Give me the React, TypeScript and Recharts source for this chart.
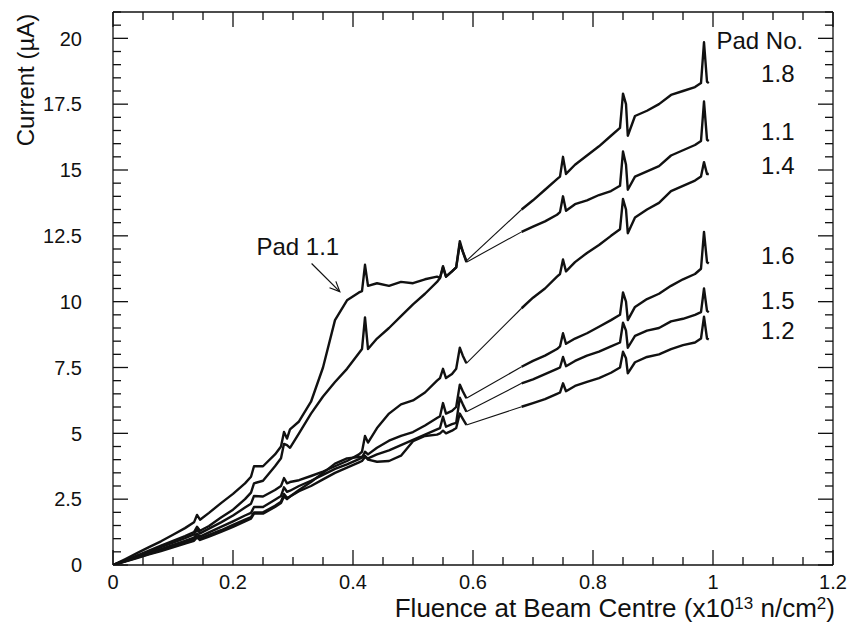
import {
  LineChart,
  Line,
  XAxis,
  YAxis,
  ReferenceDot,
  ReferenceLine,
} from "recharts";

// fluence at beam centre (x10^13 n/cm^2) – shared sampling of all six pads
const fluence = [
  0, 0.02, 0.04, 0.06, 0.08, 0.1, 0.12, 0.135, 0.14, 0.145,
  0.16, 0.18, 0.2, 0.22, 0.23, 0.235, 0.25, 0.27, 0.28, 0.285,
  0.29, 0.295, 0.31, 0.33, 0.35, 0.37, 0.39, 0.41, 0.415, 0.42,
  0.425, 0.44, 0.46, 0.48, 0.5, 0.52, 0.54, 0.545, 0.55, 0.555,
  0.565, 0.572, 0.578, 0.583, 0.589,
  0.681, 0.7, 0.72, 0.74, 0.745, 0.75, 0.755, 0.77, 0.79, 0.81,
  0.83, 0.845, 0.85, 0.855, 0.858, 0.87, 0.89, 0.91, 0.93, 0.95,
  0.97, 0.98, 0.985, 0.99, 0.993,
];
// no measurements between these two fluences, only a straight join
const gapStart = 0.589;
const gapEnd = 0.681;

// current (µA) per pad
const pad18 = [
  0, 0.18, 0.36, 0.55, 0.74, 0.92, 1.1, 1.25, 1.45, 1.3,
  1.48, 1.8, 2.1, 2.5, 2.75, 3.1, 3.2, 3.75, 4.05, 4.6,
  4.55, 4.45, 5.0, 5.75, 6.4, 6.95, 7.45, 8.05, 8.2, 9.4,
  8.2, 8.6, 9.0, 9.45, 9.9, 10.3, 10.75, 10.9, 11.3, 10.95,
  11.15, 11.3, 12.2, 11.9, 11.55,
  13.5, 13.85, 14.25, 14.65, 14.75, 15.5, 14.85, 15.2, 15.55, 15.9,
  16.3, 16.6, 17.9, 17.5, 16.3, 17.05, 17.25, 17.5, 17.85, 18.0,
  18.15, 18.3, 19.85, 18.35, 18.3,
];

const pad11 = [
  0, 0.22, 0.45, 0.68, 0.9, 1.15, 1.4, 1.62, 1.9, 1.72,
  1.98, 2.35, 2.7, 3.1, 3.35, 3.75, 3.75, 4.2, 4.5, 5.05,
  4.8, 5.15, 5.45, 6.2, 7.5, 9.3, 10.05, 10.35, 10.4, 11.4,
  10.6, 10.7, 10.6, 10.75, 10.7, 10.85, 10.95, 10.9, 11.35, 10.95,
  11.15, 11.3, 12.3, 11.9, 11.5,
  12.65, 12.85, 13.05, 13.3, 13.4, 14.0, 13.45, 13.7, 13.85, 14.05,
  14.2, 14.4, 15.7, 15.2, 14.25, 14.75, 14.95, 15.15, 15.55, 15.75,
  15.95, 16.1, 17.6, 16.15, 16.1,
];

const pad14 = [
  0, 0.17, 0.34, 0.51, 0.68, 0.85, 1.02, 1.16, 1.38, 1.2,
  1.38, 1.62, 1.88, 2.18, 2.33, 2.62, 2.6, 2.85, 3.0, 3.3,
  3.1, 3.15, 3.22, 3.38, 3.55, 3.75, 3.95, 4.2, 4.3, 4.9,
  4.65, 5.2, 5.75, 6.1, 6.25, 6.55, 7.0, 7.1, 7.45, 7.1,
  7.25, 7.45, 8.25, 7.95, 7.66,
  9.75, 10.15, 10.5, 10.95, 11.05, 11.6, 11.15, 11.5, 11.85, 12.15,
  12.5, 12.75, 13.9, 13.5, 12.6, 13.2, 13.5, 13.75, 14.2, 14.4,
  14.6, 14.75, 15.3, 14.85, 14.85,
];

const pad16 = [
  0, 0.15, 0.3, 0.45, 0.6, 0.76, 0.92, 1.04, 1.2, 1.08,
  1.24, 1.45, 1.66, 1.88, 1.98, 2.2, 2.2, 2.48, 2.62, 2.95,
  2.78, 2.82, 3.0, 3.2, 3.42, 3.65, 3.82, 4.02, 4.08, 4.3,
  4.2, 4.45, 4.72, 4.9, 5.05, 5.3, 5.58, 5.65, 6.15, 5.75,
  5.85, 6.0, 6.85, 6.6, 6.33,
  7.53, 7.75, 7.95, 8.2, 8.3, 8.8, 8.4, 8.6, 8.8, 9.05,
  9.3, 9.5, 10.35, 10.0, 9.3, 9.8, 10.1, 10.3, 10.6, 10.85,
  11.05, 11.25, 12.65, 11.5, 11.45,
];

const pad15 = [
  0, 0.14, 0.28, 0.42, 0.56, 0.71, 0.86, 0.97, 1.1, 1.0,
  1.14, 1.32, 1.52, 1.72, 1.82, 2.0, 2.0, 2.25, 2.4, 2.7,
  2.55, 2.6, 2.8, 3.0, 3.25, 3.5, 3.7, 3.9, 3.95, 4.1,
  4.05, 4.2, 4.35, 4.55, 4.75, 4.95, 5.15, 5.2, 5.63, 5.25,
  5.35, 5.4, 6.35, 6.1, 5.82,
  6.9, 7.05, 7.25, 7.45, 7.5, 7.9, 7.55, 7.75, 7.95, 8.1,
  8.3, 8.45, 9.2, 8.9, 8.25, 8.7, 8.9, 9.0, 9.25, 9.35,
  9.5, 9.6, 10.5, 9.65, 9.6,
];

const pad12 = [
  0, 0.13, 0.26, 0.4, 0.53, 0.67, 0.81, 0.92, 1.05, 0.95,
  1.08, 1.26, 1.45, 1.66, 1.76, 1.95, 1.95, 2.2, 2.35, 2.6,
  2.5, 2.6, 2.85, 3.15, 3.5, 3.85, 4.05, 4.1, 4.1, 4.15,
  4.0, 3.92, 3.95, 4.15, 4.7, 4.9, 4.95, 5.0, 5.1, 5.0,
  5.1, 5.2, 5.75, 5.55, 5.32,
  6.01, 6.15, 6.3, 6.5, 6.55, 6.9, 6.6, 6.8, 6.95, 7.1,
  7.3, 7.5, 8.1, 7.85, 7.28, 7.7, 7.9, 8.0, 8.2, 8.35,
  8.45, 8.6, 9.43, 8.6, 8.57,
];

const xTicks = [
  0, 0.05, 0.1, 0.15, 0.2, 0.25, 0.3, 0.35, 0.4, 0.45, 0.5, 0.55, 0.6,
  0.65, 0.7, 0.75, 0.8, 0.85, 0.9, 0.95, 1, 1.05, 1.1, 1.15, 1.2,
];
const yTicks = [
  0, 0.5, 1, 1.5, 2, 2.5, 3, 3.5, 4, 4.5, 5, 5.5, 6, 6.5, 7, 7.5, 8, 8.5,
  9, 9.5, 10, 10.5, 11, 11.5, 12, 12.5, 13, 13.5, 14, 14.5, 15, 15.5, 16,
  16.5, 17, 17.5, 18, 18.5, 19, 19.5, 20, 20.5, 21,
];

// labels on the right (pad numbers) and their anchor in data units
const padNames = ["Pad No.", "1.8", "1.1", "1.4", "1.6", "1.5", "1.2"];
const padLabelX = [1.078, 1.108, 1.108, 1.108, 1.108, 1.108, 1.108];
const padLabelY = [19.9, 18.67, 16.46, 15.19, 11.74, 10.06, 8.89];

const pads: [string, number[]][] = [
  ["p18", pad18],
  ["p11", pad11],
  ["p14", pad14],
  ["p16", pad16],
  ["p15", pad15],
  ["p12", pad12],
];

// each pad split in: measured part before gap (a), after gap (b), straight join (c)
const data = fluence.map((f, i) => {
  const row: Record<string, number | null> = { f };
  pads.forEach(([k, vals]) => {
    row[k + "a"] = f <= gapStart ? vals[i] : null;
    row[k + "b"] = f >= gapEnd ? vals[i] : null;
    row[k + "c"] = f === gapStart || f === gapEnd ? vals[i] : null;
  });
  return row;
});

const INK = "#111";
const isMajor = (v: number, step: number) =>
  Math.abs(v / step - Math.round(v / step)) < 1e-6;

function BottomTick(props: any) {
  const { x, y, payload } = props;
  const major = isMajor(payload.value, 0.2);
  return (
    <g>
      <line x1={x} y1={y} x2={x} y2={y - (major ? 15 : 8)} stroke={INK} strokeWidth={1.3} />
      {major && (
        <text x={x} y={y + 10} dy="0.71em" textAnchor="middle" fontSize={20} fill={INK}>
          {String(payload.value)}
        </text>
      )}
    </g>
  );
}

function TopTick(props: any) {
  const { x, y, payload } = props;
  const major = isMajor(payload.value, 0.2);
  return <line x1={x} y1={y} x2={x} y2={y + (major ? 15 : 8)} stroke={INK} strokeWidth={1.3} />;
}

function LeftTick(props: any) {
  const { x, y, payload } = props;
  const major = isMajor(payload.value, 2.5);
  return (
    <g>
      <line x1={x} y1={y} x2={x + (major ? 15 : 8)} y2={y} stroke={INK} strokeWidth={1.3} />
      {major && (
        <text x={x - 31} y={y} dy="0.36em" textAnchor="end" fontSize={20} fill={INK}>
          {String(payload.value)}
        </text>
      )}
    </g>
  );
}

function RightTick(props: any) {
  const { x, y, payload } = props;
  const major = isMajor(payload.value, 2.5);
  return <line x1={x} y1={y} x2={x - (major ? 15 : 8)} y2={y} stroke={INK} strokeWidth={1.3} />;
}

function ArrowShape(props: any) {
  const { x1, y1, x2, y2 } = props;
  const a = Math.atan2(y2 - y1, x2 - x1);
  const len = 11;
  const s = 0.42;
  const hx1 = x2 - len * Math.cos(a - s);
  const hy1 = y2 - len * Math.sin(a - s);
  const hx2 = x2 - len * Math.cos(a + s);
  const hy2 = y2 - len * Math.sin(a + s);
  return (
    <g>
      <line x1={x1} y1={y1} x2={x2} y2={y2} stroke={INK} strokeWidth={1.2} />
      <path d={`M${hx1},${hy1} L${x2},${y2} L${hx2},${hy2}`} fill="none" stroke={INK} strokeWidth={1.2} />
    </g>
  );
}

function XTitle(props: any) {
  const { viewBox } = props;
  return (
    <text
      x={viewBox.x + viewBox.width + 2}
      y={viewBox.y + 52}
      textAnchor="end"
      fontSize={26}
      fill={INK}
    >
      <tspan>Fluence at Beam Centre (x10</tspan>
      <tspan dy={-8} fontSize={17}>13</tspan>
      <tspan dy={8}> n/cm</tspan>
      <tspan dy={-8} fontSize={17}>2</tspan>
      <tspan dy={8}>)</tspan>
    </text>
  );
}

function YTitle(props: any) {
  const { viewBox } = props;
  const cx = viewBox.x - 28;
  const cy = viewBox.y + 68;
  return (
    <text
      x={cx}
      y={cy}
      dy="0.36em"
      textAnchor="middle"
      fontSize={24}
      fill={INK}
      transform={`rotate(-90, ${cx}, ${cy})`}
    >
      Current (µA)
    </text>
  );
}

export default function App() {
  return (
    <div
      style={{
        position: "fixed",
        left: 0,
        top: 0,
        width: 851,
        height: 641,
        background: "#fff",
        fontFamily: '"Liberation Sans", Arial, sans-serif',
      }}
    >
      <LineChart
        width={851}
        height={641}
        data={data}
        margin={{ top: 7, right: 13, left: 53, bottom: 46 }}
      >
        <XAxis
          dataKey="f"
          type="number"
          domain={[0, 1.2]}
          allowDataOverflow
          ticks={xTicks}
          interval={0}
          height={30}
          tickSize={0}
          tickMargin={0}
          tickLine={false}
          tick={BottomTick}
          axisLine={{ stroke: INK, strokeWidth: 1.3 }}
          label={<XTitleWrap />}
        />
        <XAxis
          xAxisId="top"
          orientation="top"
          dataKey="f"
          type="number"
          domain={[0, 1.2]}
          allowDataOverflow
          ticks={xTicks}
          interval={0}
          height={5}
          tickSize={0}
          tickMargin={0}
          tickLine={false}
          tick={TopTick}
          axisLine={{ stroke: INK, strokeWidth: 1.3 }}
        />
        <YAxis
          type="number"
          domain={[0, 21]}
          allowDataOverflow
          ticks={yTicks}
          interval={0}
          width={60}
          tickSize={0}
          tickMargin={0}
          tickLine={false}
          tick={LeftTick}
          axisLine={{ stroke: INK, strokeWidth: 1.3 }}
          label={<YTitleWrap />}
        />
        <YAxis
          yAxisId="right"
          orientation="right"
          type="number"
          domain={[0, 21]}
          allowDataOverflow
          ticks={yTicks}
          interval={0}
          width={5}
          tickSize={0}
          tickMargin={0}
          tickLine={false}
          tick={RightTick}
          axisLine={{ stroke: INK, strokeWidth: 1.3 }}
        />

        {pads.map(([k]) => (
          <Line
            key={k + "c"}
            type="linear"
            dataKey={k + "c"}
            stroke={INK}
            strokeWidth={1.1}
            dot={false}
            activeDot={false}
            connectNulls
            isAnimationActive={false}
          />
        ))}
        {pads.flatMap(([k]) =>
          ["a", "b"].map((part) => (
            <Line
              key={k + part}
              type="linear"
              dataKey={k + part}
              stroke={INK}
              strokeWidth={2.4}
              strokeLinejoin="round"
              dot={false}
              activeDot={false}
              isAnimationActive={false}
            />
          ))
        )}

        <ReferenceLine
          segment={[
            { x: 0.331, y: 11.45 },
            { x: 0.378, y: 10.38 },
          ]}
          shape={ArrowShape}
        />
        <ReferenceDot
          x={0.308}
          y={12.08}
          r={0}
          fill="none"
          stroke="none"
          label={{ value: "Pad 1.1", position: "center", fontSize: 24, fill: INK }}
        />
        {padNames.map((name, i) => (
          <ReferenceDot
            key={name}
            x={padLabelX[i]}
            y={padLabelY[i]}
            r={0}
            fill="none"
            stroke="none"
            label={{ value: name, position: "center", fontSize: 24, fill: INK }}
          />
        ))}
      </LineChart>
    </div>
  );
}

function XTitleWrap(props: any) {
  return <XTitle {...props} />;
}

function YTitleWrap(props: any) {
  return <YTitle {...props} />;
}
